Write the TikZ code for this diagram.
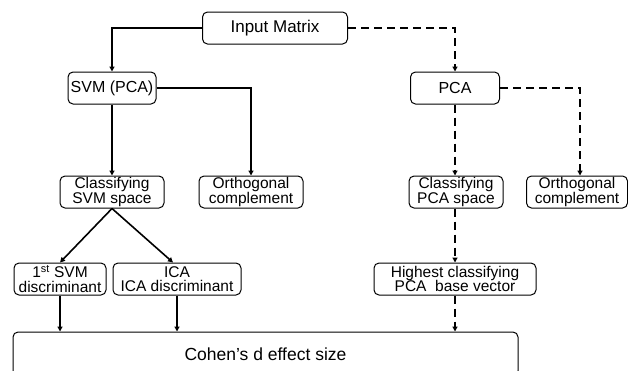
\documentclass[tikz,border=0pt]{standalone}
\usepackage{fontspec}
\setmainfont{Liberation Sans}
\usetikzlibrary{positioning,calc,arrows.meta}

\tikzset{
  box/.style={draw, rounded corners=5pt, line width=1pt, inner sep=0pt, align=center,
    minimum height=32pt, font=\fontsize{15.5}{14.5}\selectfont},
  topbox/.style={box, font=\fontsize{16}{16}\selectfont},
  conn/.style={line width=1.6pt, -{Triangle[length=5pt,width=5pt]}},
  dconn/.style={conn, dash pattern=on 8pt off 5pt}
}

\begin{document}
\begin{tikzpicture}[x=1pt, y=-1pt]
  \clip (0,0) rectangle (628,370);

  % top row
  \node[topbox, minimum width=145pt, minimum height=32pt, font=\fontsize{17}{17}\selectfont] (input) at (275, 28) {Input Matrix};
  \node[topbox, minimum width=88pt] (svm) at (112, 88) {SVM (PCA)};
  \node[topbox, minimum width=89pt] (pca) at (455, 88) {PCA};

  % spaces and complements
  \node[box, minimum width=104pt] (clsvm) at (112, 192) {Classifying\\SVM space};
  \node[box, minimum width=104pt] (orthl) at (251, 192) {Orthogonal\\complement};
  \node[box, minimum width=94pt] (clpca) at (456, 192) {Classifying\\PCA space};
  \node[box, minimum width=101pt] (orthr) at (577, 192) {Orthogonal\\complement};

  % discriminants and base vector
  \node[box, minimum width=92pt] (first) at (60, 279) {1\textsuperscript{st} SVM\\discriminant};
  \node[box, minimum width=128pt] (ica) at (177, 279) {ICA\\ICA discriminant};
  \node[box, minimum width=162pt] (high) at (455, 279) {Highest classifying\\PCA\ \ base vector};

  % effect size
  \node[box, minimum width=505pt, minimum height=44pt, font=\fontsize{17.5}{17.5}\selectfont] (cohen) at (265.5, 354) {Cohen's d effect size};

  % SVM branch
  \draw[conn] (input.west) -| (svm.north);
  \draw[conn] (svm.south) -- (clsvm.north);
  \draw[conn] (svm.east) -| (orthl.north);
  \draw[conn] (clsvm.south) -- (first.north);
  \draw[conn] (clsvm.south) -- ([xshift=-4pt]ica.north);
  \draw[conn] (first.south) -- (first.south |- cohen.north);
  \draw[conn] (ica.south) -- (ica.south |- cohen.north);

  % PCA branch
  \draw[dconn] (input.east) -| (pca.north);
  \draw[dconn] (pca.south) -- (pca.south |- clpca.north);
  \draw[dconn] (pca.east) -| ([xshift=3pt]orthr.north);
  \draw[dconn] (clpca.south -| high.north) -- (high.north);
  \draw[dconn] (high.south) -- (high.south |- cohen.north);
\end{tikzpicture}
\end{document}
